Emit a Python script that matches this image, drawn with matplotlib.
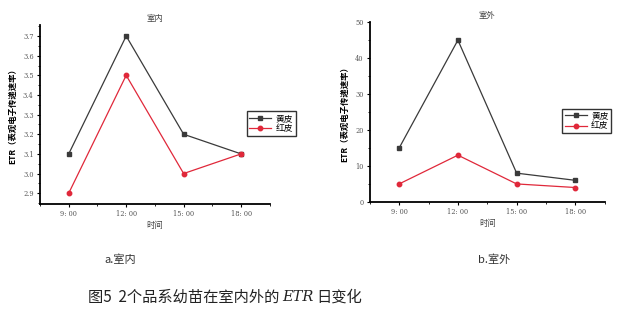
import numpy as np
import matplotlib
matplotlib.use('Agg')
import matplotlib.pyplot as plt
from matplotlib.ticker import AutoMinorLocator

plt.rcParams['font.family'] = ['Noto Sans CJK SC', 'DejaVu Sans']
plt.rcParams['axes.unicode_minus'] = False

times = ['9: 00', '12: 00', '15: 00', '18: 00']
indoor_yellow = [3.1, 3.7, 3.2, 3.1]
indoor_red = [2.9, 3.5, 3.0, 3.1]
outdoor_yellow = [15, 45, 8, 6]
outdoor_red = [5, 13, 5, 4]
series_names = ['黄皮', '红皮']

dark = '#3a3a3a'
red = '#e0283a'


def draw_panel(ax, yellow, red_vals, title, ylim, yticks, yfmt):
  x = np.arange(1, len(times) + 1)
  ax.plot(x, yellow, color=dark, lw=0.9, marker='s', ms=3.2, label=series_names[0])
  ax.plot(x, red_vals, color=red, lw=0.9, marker='o', ms=3.2, label=series_names[1])
  ax.set_xlim(0.5, 4.5)
  ax.set_ylim(*ylim)
  ax.set_xticks(x)
  ax.set_xticklabels(times, fontsize=4.8, color='#555555', family='DejaVu Serif')
  ax.set_yticks(yticks)
  ax.set_yticklabels([yfmt.format(v) for v in yticks], fontsize=4.8, color='#555555',
                     family='DejaVu Serif')
  ax.xaxis.set_minor_locator(AutoMinorLocator(2))
  ax.yaxis.set_minor_locator(AutoMinorLocator(2))
  for s in ['top', 'right']:
    ax.spines[s].set_visible(False)
  for s in ['left', 'bottom']:
    ax.spines[s].set_linewidth(1.3)
  ax.tick_params(which='major', length=2.5, width=0.8, pad=2)
  ax.tick_params(which='minor', length=1.5, width=0.6)
  ax.set_title(title, fontsize=6, color='#444444', pad=3)
  ax.set_xlabel('时间', fontsize=6, color='#444444', labelpad=2)
  ax.set_ylabel('ETR（表观电子传递速率）', fontsize=6, fontweight='bold', labelpad=4)
  leg = ax.legend(loc='center left', bbox_to_anchor=(1.0, 0.45), fontsize=6.3,
                  frameon=True, fancybox=False, edgecolor='black',
                  handlelength=2.5, borderpad=0.3, labelspacing=0.15, handletextpad=0.5)
  leg.get_frame().set_linewidth(1.0)


fig = plt.figure(figsize=(6.42, 3.21), dpi=100)
ax1 = fig.add_axes([0.0623, 0.3645, 0.358, 0.5575])
ax2 = fig.add_axes([0.576, 0.371, 0.366, 0.56])

draw_panel(ax1, indoor_yellow, indoor_red, '室内', (2.845, 3.756),
           [2.9, 3.0, 3.1, 3.2, 3.3, 3.4, 3.5, 3.6, 3.7], '{:.1f}')
draw_panel(ax2, outdoor_yellow, outdoor_red, '室外', (0, 50),
           [0, 10, 20, 30, 40, 50], '{:d}')

ax1.legend_.set_bbox_to_anchor((0.88, 0.45))
ax2.legend_.set_bbox_to_anchor((0.8, 0.45))

fig.text(0.187, 0.19, 'a.室内', fontsize=8, ha='center', va='center', color='#333333')
fig.text(0.77, 0.19, 'b.室外', fontsize=8, ha='center', va='center', color='#333333')

# caption: place pieces one after another
renderer = fig.canvas.get_renderer()
parts = [('图5  2个品系幼苗在室内外的', dict(fontsize=11, fontweight='medium')),
         ('ETR', dict(fontsize=10.5, style='italic', family='DejaVu Serif')),
         ('日变化', dict(fontsize=11, fontweight='medium'))]
x = 0.137
for txt, kw in parts:
  t = fig.text(x, 0.075, txt, ha='left', va='center', color='#222222', **kw)
  bb = t.get_window_extent(renderer)
  x += bb.width / fig.bbox.width + 0.004

fig.savefig('out.png', dpi=100)
